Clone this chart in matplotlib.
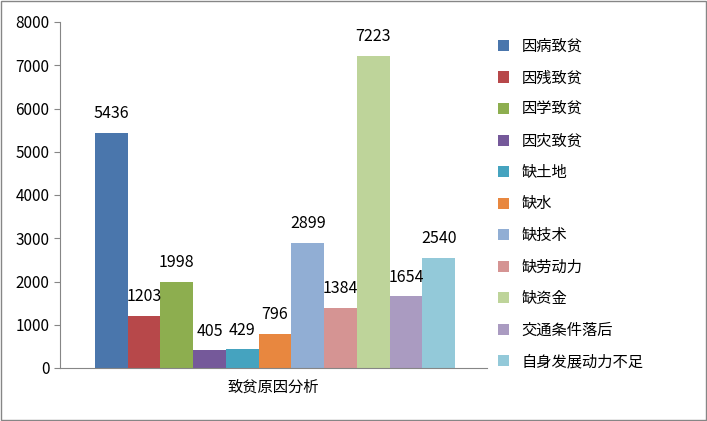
import matplotlib
matplotlib.use("Agg")
import matplotlib.pyplot as plt
from matplotlib.patches import Rectangle

plt.rcParams['font.family'] = 'sans-serif'
plt.rcParams['font.sans-serif'] = ['Noto Sans CJK SC', 'Noto Sans CJK JP', 'DejaVu Sans']

category = "致贫原因分析"
series = ["因病致贫", "因残致贫", "因学致贫", "因灾致贫", "缺土地", "缺水", "缺技术",
          "缺劳动力", "缺资金", "交通条件落后", "自身发展动力不足"]
values = [5436, 1203, 1998, 405, 429, 796, 2899, 1384, 7223, 1654, 2540]
colors = ["#4A76AC", "#B7484A", "#8DAE4F", "#75599A", "#45A3BF", "#E8873F",
          "#91AED4", "#D59493", "#BED49A", "#AA9BC1", "#93C9D9"]
yticks = [0, 1000, 2000, 3000, 4000, 5000, 6000, 7000, 8000]

fig = plt.figure(figsize=(7.07, 4.21), dpi=100)
fig.patches.append(Rectangle((0.002, 0.003), 0.996, 0.994, transform=fig.transFigure,
                             fill=False, edgecolor="#868686", linewidth=1))
ax = fig.add_axes([60/707, 53/421, 427/707, 346/421])
n = len(values)
bw = 360/427/n
start = 35/427
for i, (s, v, c) in enumerate(zip(series, values, colors)):
    x = start + i*bw
    ax.bar(x, v, width=bw, align='edge', color=c, label=s)
    ax.text(x + bw/2, v + 250, str(v), ha='center', va='bottom', fontsize=11.5)
ax.set_xlim(0, 1)
ax.set_ylim(0, 8000)
ax.set_yticks(yticks)
ax.tick_params(axis='y', labelsize=11, length=4, color='#868686')
ax.set_xticks([0.5])
ax.set_xticklabels([category], fontsize=11)
ax.tick_params(axis='x', length=0, pad=8)
for sp in ['top', 'right']:
    ax.spines[sp].set_visible(False)
for sp in ['left', 'bottom']:
    ax.spines[sp].set_color('#868686')
ax.legend(loc='upper left', bbox_to_anchor=(1.0, 0.985), frameon=False,
          fontsize=11, handlelength=0.75, handleheight=0.75, labelspacing=0.95,
          borderaxespad=0.3)
fig.savefig("out.png", dpi=100)
